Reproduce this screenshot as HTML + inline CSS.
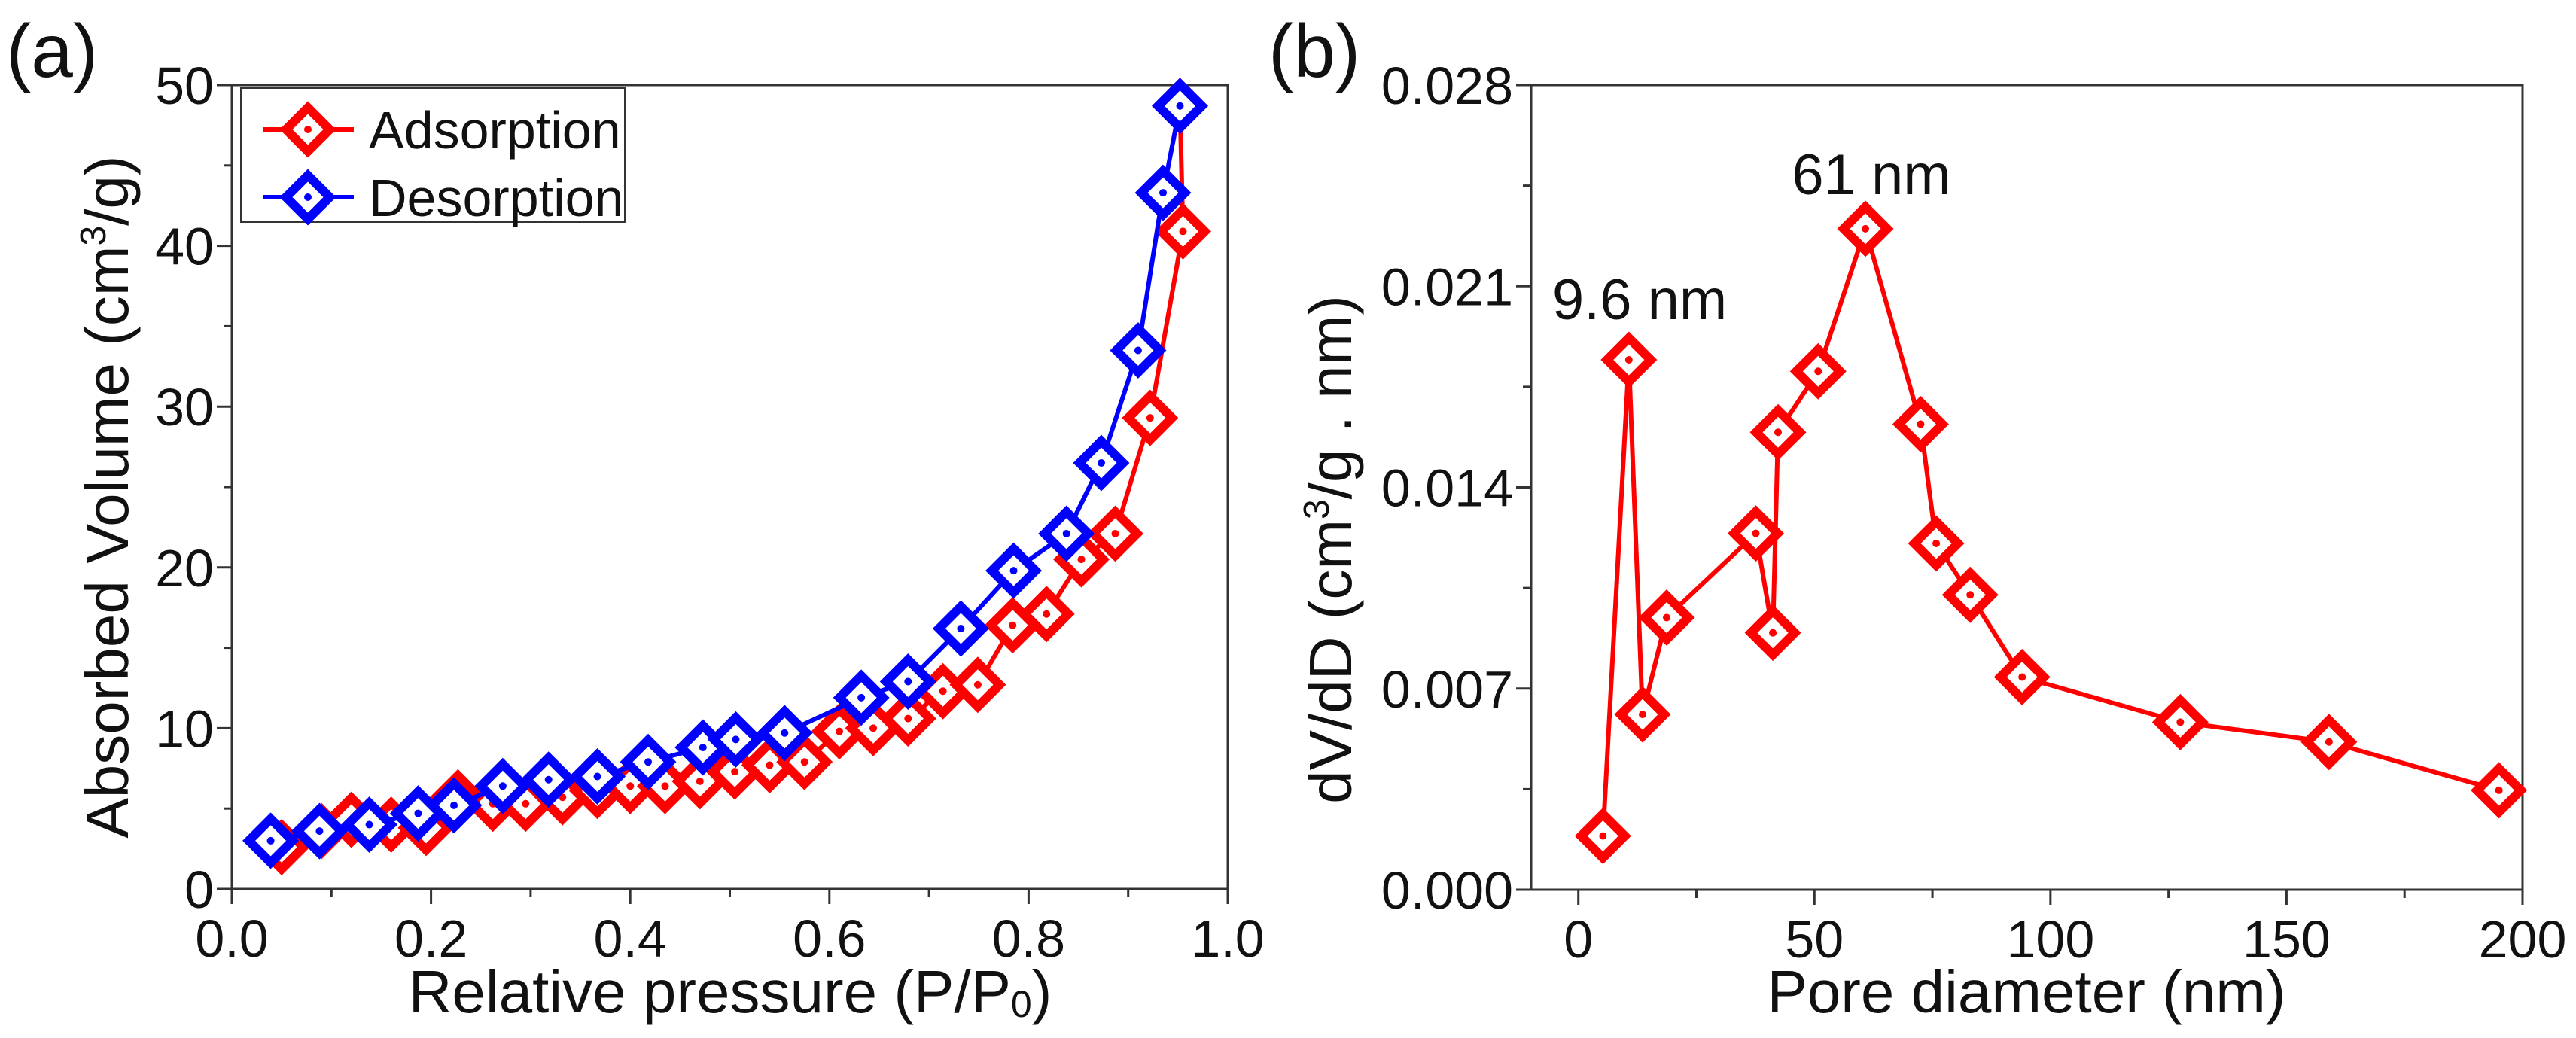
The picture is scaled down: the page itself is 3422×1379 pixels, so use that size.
<!DOCTYPE html>
<html><head><meta charset="utf-8"><style>
html,body{margin:0;padding:0;background:#fff}
svg{display:block}
text{font-family:"Liberation Sans",Arial,sans-serif;fill:#111}
</style></head><body>
<svg id="fig" width="3422" height="1379" viewBox="0 0 3422 1379" xmlns="http://www.w3.org/2000/svg">
<g id="pa"></g>
<g id="pb"></g>
</svg>
<script>
const adsX=[0.05,0.09,0.12,0.16,0.195,0.227,0.262,0.295,0.332,0.367,0.40,0.435,0.47,0.505,0.54,0.575,0.61,0.644,0.679,0.714,0.749,0.784,0.818,0.853,0.887,0.922,0.955,0.952];
const adsY=[2.6,3.6,4.3,4.0,3.8,5.7,5.3,5.3,5.7,6.1,6.4,6.4,6.7,7.3,7.7,7.9,9.8,10.0,10.6,12.3,12.7,16.4,17.1,20.5,22.1,29.3,40.9,48.7];
const desX=[0.039,0.088,0.138,0.187,0.223,0.272,0.318,0.367,0.418,0.473,0.506,0.555,0.632,0.679,0.732,0.785,0.838,0.873,0.91,0.935,0.952];
const desY=[3.0,3.6,4.0,4.7,5.2,6.4,6.8,7.0,7.9,8.8,9.3,9.7,11.9,12.9,16.2,19.8,22.1,26.5,33.5,43.3,48.7];
const poreX=[5.2,10.7,13.6,18.7,37.6,41.2,42.3,50.8,60.8,72.5,75.8,83,94,127.5,159,195];
const poreY=[0.00187,0.01844,0.0061,0.00947,0.0124,0.00894,0.01592,0.01804,0.0230,0.0162,0.01205,0.01026,0.0074,0.00583,0.00514,0.00346];
const aXTicks=["0.0","0.2","0.4","0.6","0.8","1.0"];
const aYTicks=["0","10","20","30","40","50"];
const bXTicks=["0","50","100","150","200"];
const bYTicks=["0.000","0.007","0.014","0.021","0.028"];

const NS="http://www.w3.org/2000/svg";
function mk(parent,tag,attrs,txt){const e=document.createElementNS(NS,tag);for(const k in attrs)e.setAttribute(k,attrs[k]);if(txt!==undefined)e.textContent=txt;parent.appendChild(e);return e;}

function axes(g,L,R,T,B,xmin,xmax,ymin,ymax){
  const sx=v=>L+(v-xmin)/(xmax-xmin)*(R-L);
  const sy=v=>B-(v-ymin)/(ymax-ymin)*(B-T);
  const fr=mk(g,'rect',{x:L,y:T,width:R-L,height:B-T,fill:'none',stroke:'#333','stroke-width':3});
  
  
  return {sx,sy};
}
function xTicks(g,sc,B,labels,minorStep,xmin,xmax,name){
  labels.forEach(l=>{const v=parseFloat(l);const x=sc(v);
    const t=mk(g,'line',{x1:x,x2:x,y1:B,y2:B+20,stroke:'#333','stroke-width':3});
    
    
    const tx=mk(g,'text',{x:x,y:B+90,'font-size':70,'text-anchor':'middle'},l);
    
    
  });
  const v0=parseFloat(labels[0]);
  for(let i=0;;i++){const v=v0+minorStep*(2*i+1);if(v>xmax+1e-9)break;
    const x=sc(v);const m=mk(g,'line',{x1:x,x2:x,y1:B,y2:B+11,stroke:'#333','stroke-width':3});
    
    }
  for(let i=0;;i++){const v=v0-minorStep*(2*i+1);if(v<xmin-1e-9)break;
    const x=sc(v);const m=mk(g,'line',{x1:x,x2:x,y1:B,y2:B+11,stroke:'#333','stroke-width':3});
    
    }
}
function yTicks(g,sc,L,labels,minorStep,ymax,name){
  labels.forEach(l=>{const v=parseFloat(l);const y=sc(v);
    const t=mk(g,'line',{x1:L-20,x2:L,y1:y,y2:y,stroke:'#333','stroke-width':3});
    
    
    const tx=mk(g,'text',{x:L-24,y:y+25,'font-size':70,'text-anchor':'end'},l);
    
    
  });
  const v0=parseFloat(labels[0]);
  for(let i=0;;i++){const v=v0+minorStep*(2*i+1);if(v>ymax+1e-9)break;
    const y=sc(v);const m=mk(g,'line',{x1:L-11,x2:L,y1:y,y2:y,stroke:'#333','stroke-width':3});
    
    }
}
function diamond(g,x,y,col,name){
  const d=mk(g,'g',{});
  
  
  mk(d,'polygon',{points:`${x},${y-29} ${x+29},${y} ${x},${y+29} ${x-29},${y}`,fill:'#fff',stroke:col,'stroke-width':12,'stroke-linejoin':'miter'});
  mk(d,'circle',{cx:x,cy:y,r:5,fill:col});
}
function series(g,xs,ys,sx,sy,col,name){
  const pts=xs.map((v,i)=>sx(v)+','+sy(ys[i])).join(' ');
  const pl=mk(g,'polyline',{points:pts,fill:'none',stroke:col,'stroke-width':6,'stroke-linejoin':'round'});
  
  
  xs.forEach((v,i)=>diamond(g,sx(v),sy(ys[i]),col,name+'-point'));
}

// Panel A
const pa=document.getElementById('pa');
const A=axes(pa,308,1631,113,1181,0,1,0,50);
xTicks(pa,A.sx,1181,aXTicks,0.1,0,1,'x-axis-a');
yTicks(pa,A.sy,308,aYTicks,5,50,'y-axis-a');
series(pa,adsX,adsY,A.sx,A.sy,'#ff0000','adsorption');
series(pa,desX,desY,A.sx,A.sy,'#0000ff','desorption');
let t;
t=mk(pa,'text',{x:970,y:1345,'font-size':80,'text-anchor':'middle'});


t.innerHTML='Relative pressure (P/P<tspan font-size="50" dy="6">0</tspan><tspan dy="-6">)</tspan>';
t=mk(pa,'text',{x:0,y:0,'font-size':80,'text-anchor':'middle',transform:'translate(170,660) rotate(-90)'});


t.innerHTML='Absorbed Volume (cm<tspan font-size="48" dy="-30">3</tspan><tspan dy="30">/g)</tspan>';
t=mk(pa,'text',{x:8,y:102,'font-size':100},'(a)');


// legend
const lg=mk(pa,'g',{});


mk(lg,'rect',{x:320,y:117,width:510,height:178,fill:'#fff',stroke:'#333','stroke-width':2});
[['Adsorption','#ff0000',172],['Desorption','#0000ff',262]].forEach(([n,c,y])=>{
  const e=mk(lg,'g',{});
  
  
  mk(e,'line',{x1:349,x2:470,y1:y,y2:y,stroke:c,'stroke-width':6});
  diamond(e,409,y,c,'legend-marker');
  mk(e,'text',{x:490,y:y+25,'font-size':70},n);
});

// Panel B
const pb=document.getElementById('pb');
const B=axes(pb,2034,3351,113,1182,-10,200,0,0.028);
xTicks(pb,B.sx,1182,bXTicks,25,-10,200,'x-axis-b');
yTicks(pb,B.sy,2034,bYTicks,0.0035,0.028,'y-axis-b');
series(pb,poreX,poreY,B.sx,B.sy,'#ff0000','pore-distribution');
t=mk(pb,'text',{x:2692,y:1345,'font-size':80,'text-anchor':'middle'},'Pore diameter (nm)');


t=mk(pb,'text',{x:0,y:0,'font-size':80,'text-anchor':'middle',transform:'translate(1795,730) rotate(-90)'});


t.innerHTML='dV/dD (cm<tspan font-size="48" dy="-30">3</tspan><tspan dy="30">/g . nm)</tspan>';
t=mk(pb,'text',{x:1685,y:102,'font-size':100},'(b)');


t=mk(pb,'text',{x:2178,y:424,'font-size':76,'text-anchor':'middle'},'9.6 nm');


t=mk(pb,'text',{x:2486,y:258,'font-size':76,'text-anchor':'middle'},'61 nm');


</script>
</body></html>
